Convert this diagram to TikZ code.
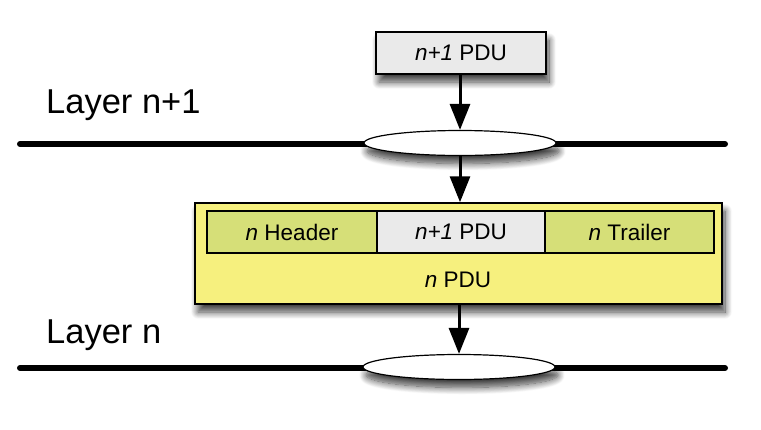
\documentclass[tikz,border=0pt]{standalone}
\usepackage{fontspec}
\setmainfont{Liberation Sans}
\usetikzlibrary{arrows.meta,shapes.geometric,shadows.blur,calc}
\definecolor{boxgray}{RGB}{234,234,234}
\definecolor{pduyellow}{RGB}{246,240,126}
\definecolor{hdrgreen}{RGB}{214,223,120}
\tikzset{
  shd/.style={blur shadow={shadow xshift=3pt,shadow yshift=-8pt,shadow blur steps=12,shadow blur radius=7pt,shadow opacity=75}},
  pdubox/.style={draw=black,line width=1.5pt,fill=boxgray,minimum width=170pt,minimum height=42pt,inner sep=0pt,font=\fontsize{22.5}{26}\selectfont},
  inbox/.style={draw=black,line width=1.5pt,minimum height=42pt,inner sep=0pt,font=\fontsize{22.5}{26}\selectfont},
  sap/.style={ellipse,draw=black,line width=1.2pt,fill=white,minimum width=192pt,minimum height=25pt,inner sep=0pt},
  layerline/.style={line width=6pt,line cap=round},
  flow/.style={line width=3pt,-{Triangle[length=26pt,width=20pt]}},
  layerlabel/.style={anchor=base west,inner sep=0pt,font=\fontsize{34.5}{40}\selectfont}
}
\begin{document}
\begin{tikzpicture}[x=1pt,y=-1pt]
\useasboundingbox (0,0) rectangle (761,429);
% layer lines
\coordinate (L1a) at (20,144);
\coordinate (L1b) at (725,144);
\coordinate (L2a) at (20,368);
\coordinate (L2b) at (725,368);
\draw[layerline] (L1a) -- (L1b);
\draw[layerline] (L2a) -- (L2b);
% labels
\node[layerlabel] (lab1) at (46,113) {Layer n+1};
\node[layerlabel] (lab2) at (46,343) {Layer n};
% top pdu
\node[pdubox,shd] (top) at (461,53) {\textit{n+1} PDU};
% SAPs
\node[sap,shd] (sap1) at (460,143) {};
\node[sap,shd] (sap2) at (459,367) {};
% n PDU container
\node[draw=black,line width=1.5pt,fill=pduyellow,minimum width=527pt,minimum height=101pt,inner sep=0pt,shd] (npdu) at (458.5,253.5) {};
\node[inbox,fill=hdrgreen,minimum width=170pt] (hdr) at (292,232) {\textit{n} Header};
\node[inbox,fill=boxgray,minimum width=168pt] (mid) at (461,232) {\textit{n+1} PDU};
\node[inbox,fill=hdrgreen,minimum width=169pt] (trl) at (629.5,232) {\textit{n} Trailer};
\node[font=\fontsize{22.5}{26}\selectfont] (npdulab) at (458,280) {\textit{n} PDU};
% arrows
\draw[flow] (top.south -| sap1.north) -- (sap1.north);
\draw[flow] (sap1.south) -- (sap1.south |- npdu.north);
\draw[flow] (npdu.south -| sap2.north) -- (sap2.north);
\end{tikzpicture}
\end{document}
